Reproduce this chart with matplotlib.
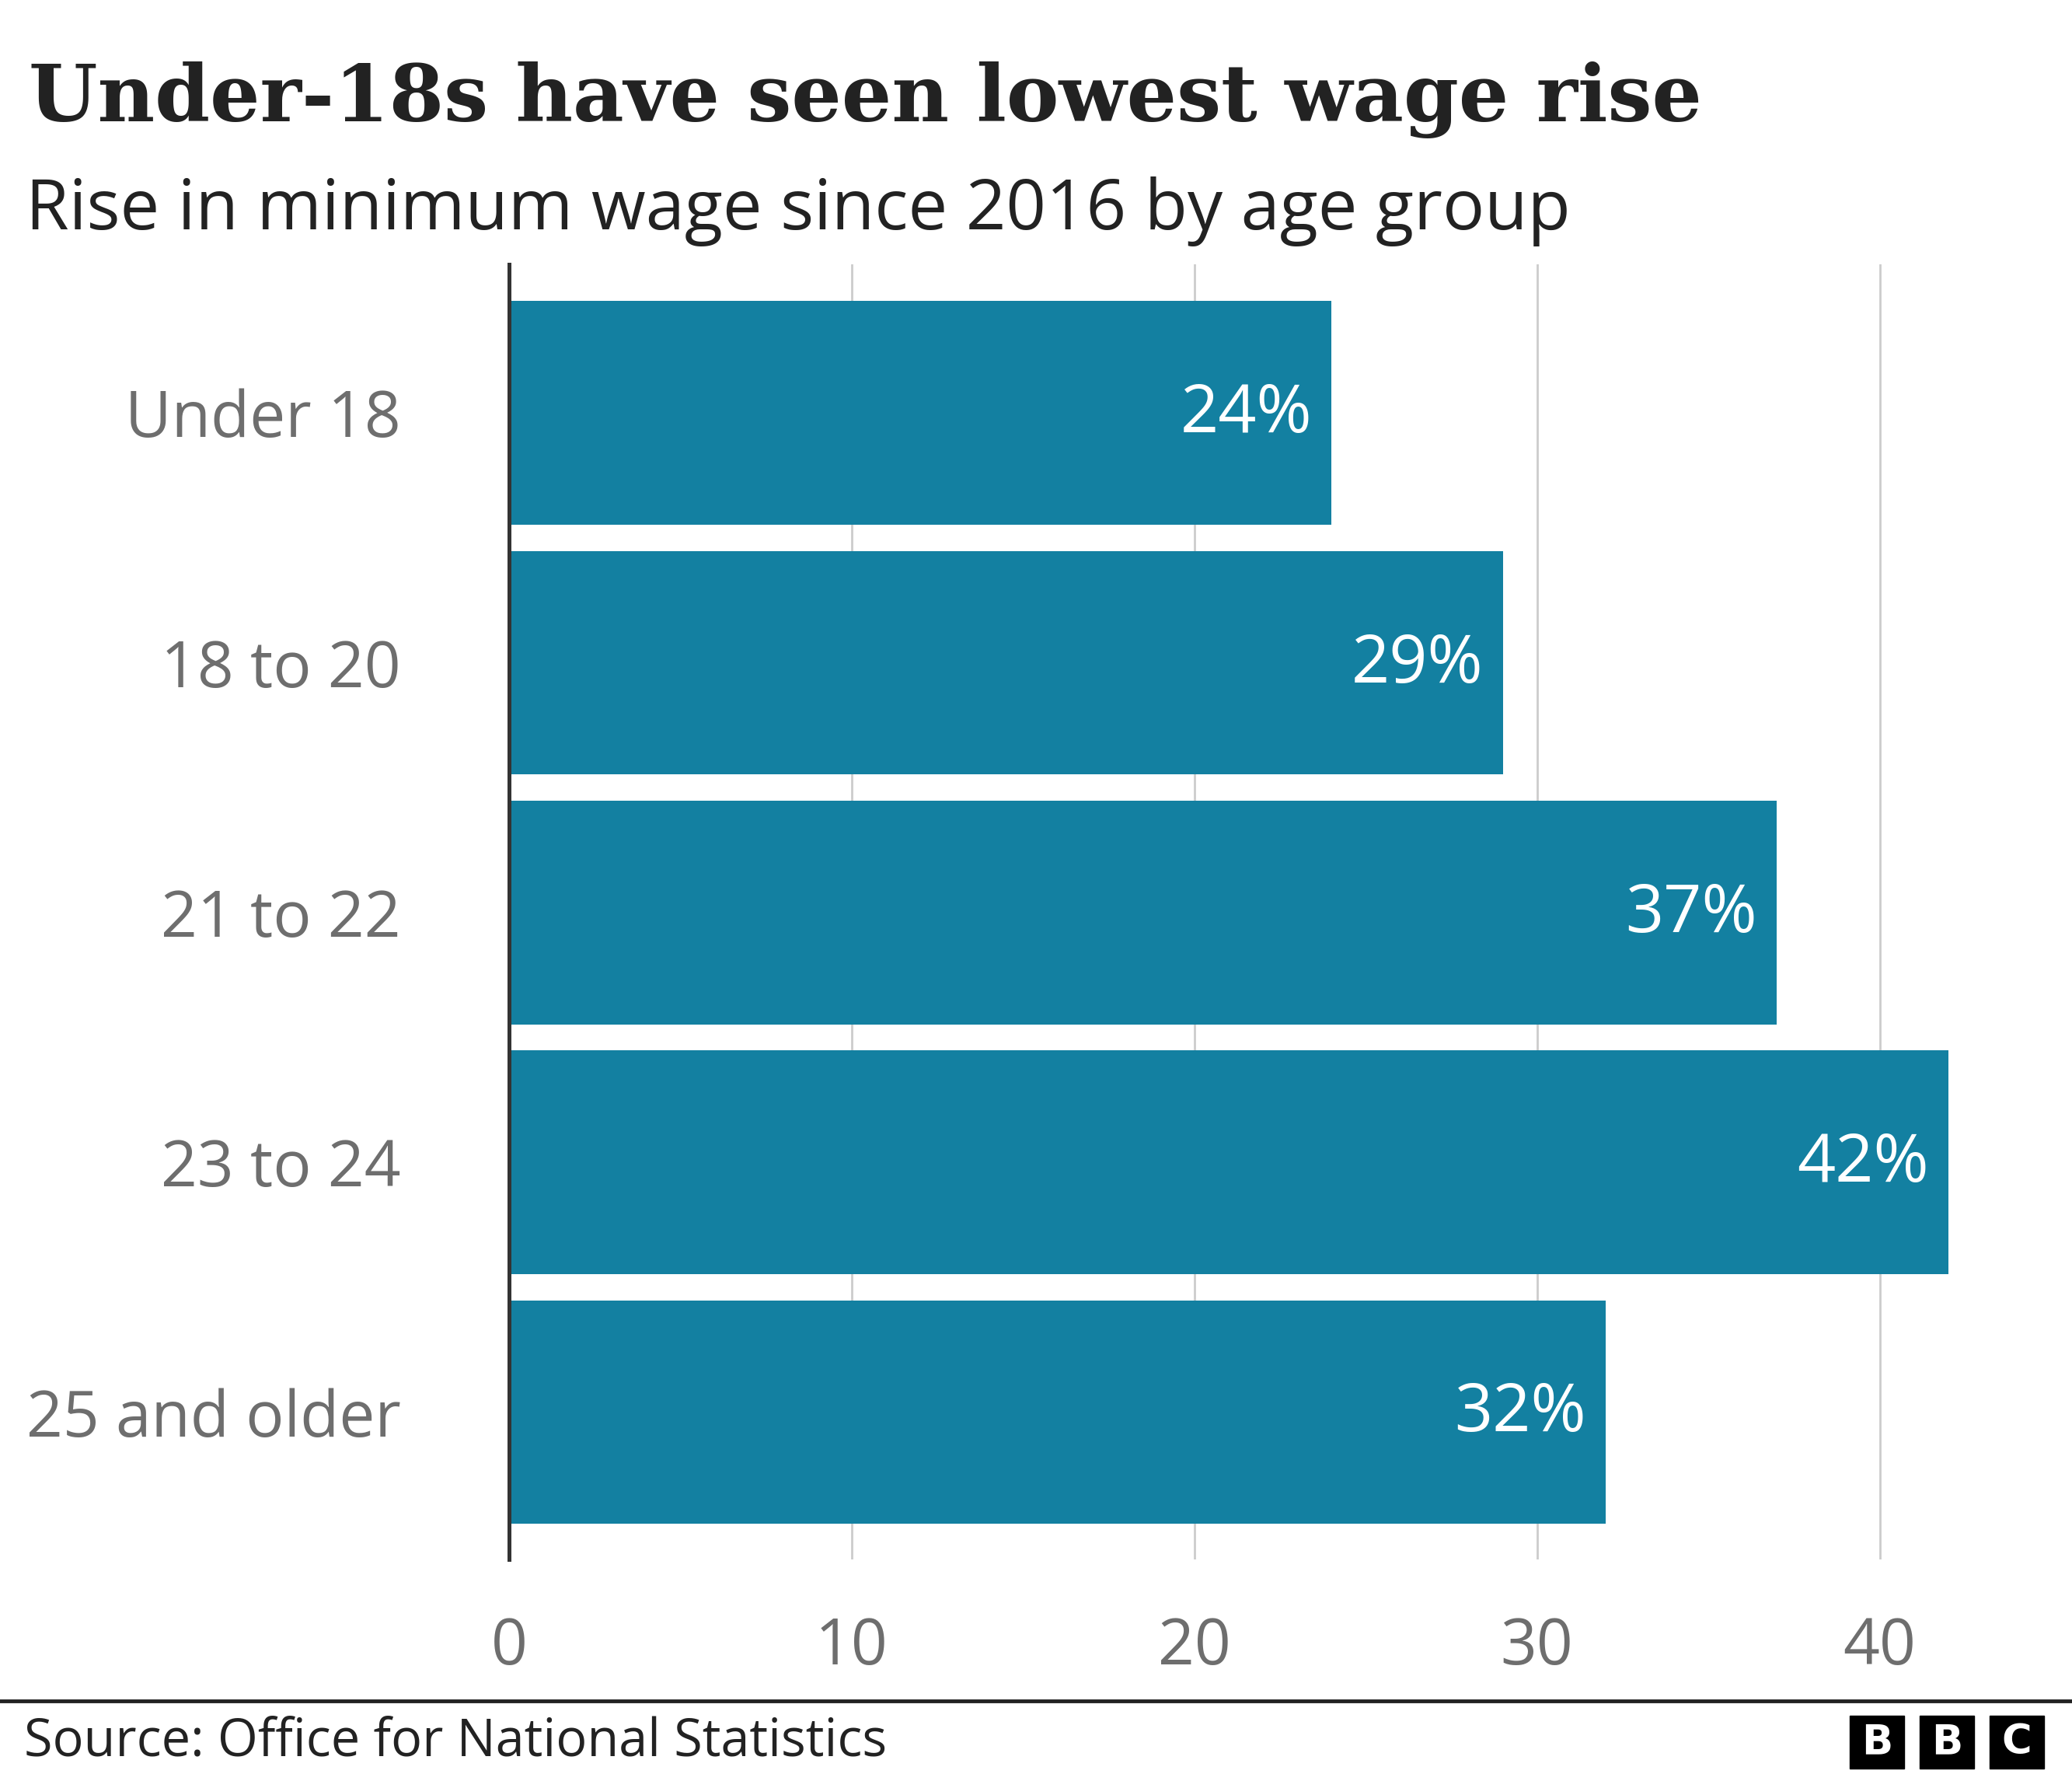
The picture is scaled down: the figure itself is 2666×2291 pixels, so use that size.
import matplotlib.pyplot as plt
from matplotlib.patches import Rectangle

groups = ["Under 18", "18 to 20", "21 to 22", "23 to 24", "25 and older"]
rises = [24, 29, 37, 42, 32]
ticks = [0, 10, 20, 30, 40]

W, H = 2666, 2291
fig = plt.figure(figsize=(W / 100, H / 100), dpi=100)
fig.patch.set_facecolor("white")

# axes placed in pixel terms of the reference
left, right, top, bottom = 655, 2639, 340, 2006
ax = fig.add_axes([left / W, 1 - bottom / H, (right - left) / W, (bottom - top) / H])

ypos = list(range(len(groups)))
ax.barh(ypos, rises, height=0.895, color="#1380A1", zorder=2)
ax.set_xlim(0, 45)
ax.set_ylim(len(groups) - 1 + 0.59, -0.595)

ax.set_xticks(ticks)
ax.set_xticklabels([str(t) for t in ticks])
ax.set_yticks(ypos)
ax.set_yticklabels(groups)
ax.tick_params(axis="both", length=0, labelsize=59, labelcolor="#6e6e6e")
ax.tick_params(axis="x", pad=52)
ax.tick_params(axis="y", pad=100)
for lab in ax.get_xticklabels() + ax.get_yticklabels():
    lab.set_family("Open Sans")

ax.grid(axis="x", color="#cccccc", linewidth=2, zorder=0)
ax.grid(axis="y", visible=False)
for s in ["top", "right", "bottom"]:
    ax.spines[s].set_visible(False)
ax.spines["left"].set_color("#333333")
ax.spines["left"].set_linewidth(3.6)
ax.spines["left"].set_zorder(3)

for y, v in zip(ypos, rises):
    ax.annotate(f"{v}%", xy=(v, y), xytext=(-18, -2), textcoords="offset points",
                ha="right", va="center", color="white", fontsize=62,
                family="Open Sans")

fig.text(37 / W, 1 - 128 / H, "Under-18s have seen lowest wage rise",
         fontsize=73, fontweight="bold", family="DejaVu Serif", color="#222222",
         va="center", ha="left")
fig.text(33 / W, 1 - 272 / H, "Rise in minimum wage since 2016 by age group",
         fontsize=65, family="Open Sans", color="#222222", va="center", ha="left")

fig.add_artist(plt.Line2D([0, 1], [1 - 2188 / H] * 2, color="#222222", linewidth=3.5,
                          transform=fig.transFigure))
fig.text(31 / W, 1 - 2241 / H, "Source: Office for National Statistics",
         fontsize=48, family="Open Sans", color="#222222", va="center", ha="left")

for i, ch in enumerate("BBC"):
    x0 = 2380 + i * 90
    fig.add_artist(Rectangle((x0 / W, 1 - 2275 / H), 70 / W, 68 / H,
                             transform=fig.transFigure, color="black"))
    fig.text((x0 + 35) / W, 1 - 2241 / H, ch, fontsize=38, fontweight="bold",
             family="DejaVu Sans", color="white", ha="center", va="center")

fig.savefig("out.png", dpi=100)
